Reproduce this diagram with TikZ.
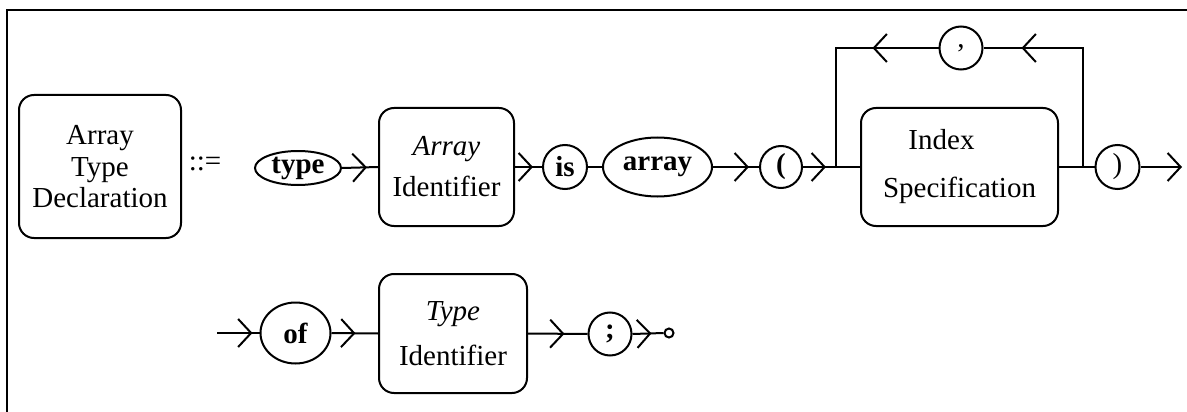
\documentclass[tikz,border=0pt]{standalone}
\usepackage{fontspec}
\setmainfont{Liberation Serif}
\usetikzlibrary{arrows.meta,decorations.markings,shapes.geometric}
\begin{document}
\begin{tikzpicture}[x=1pt,y=-1pt,
  lw/.style={line width=2pt},
  txt/.style={font=\fontsize{29}{33}\selectfont},
  btxt/.style={font=\fontsize{29}{33}\selectfont\bfseries},
  box/.style={draw,lw,rounded corners=15pt,align=center,inner sep=0pt,txt},
  oval/.style={draw,lw,ellipse,inner sep=0pt,btxt},
  term/.style={draw,lw,circle,inner sep=0pt,minimum size=44pt,btxt},
  arrat/.style={postaction={decorate,decoration={markings,mark=at position #1 with {\arrow{Straight Barb[length=13pt,width=28pt]}}}}},
  endarr/.style={-{Straight Barb[length=13pt,width=28pt]}}
]
\useasboundingbox (0,0) rectangle (1187,412);
% frame
\draw[line width=2.5pt] (7,412) -- (7,10) -- (1187,10);

% row 1
\node[box,minimum width=162pt,minimum height=143pt] (atd) at (100,166.5)
  {Array\\[-1pt]Type\\[-2pt]Declaration};
\node[txt] (def) at (205,164) {::=};
\node[oval,minimum width=86pt,minimum height=34pt] (type) at (298,168) {type};
\node[box,minimum width=135pt,minimum height=118pt] (ai) at (446.5,167)
  {\textit{Array}\\[8pt]Identifier};
\node[term,minimum size=44pt] (is) at (565,167) {is};
\node[oval,minimum width=109pt,minimum height=59pt] (array) at (657.5,167) {array};
\node[term,minimum size=42pt] (lp) at (781,167) {(};
\node[box,minimum width=197pt,minimum height=118pt] (is2) at (959.5,167)
  {Index\hspace*{36pt}\\[15pt]Specification};
\node[term,minimum size=43pt,txt] (comma) at (961,48) {,};
\node[term,minimum size=44pt,txt] (rp) at (1117.5,167) {)};
\coordinate (j1) at (836,167);
\coordinate (j2) at (1083,167);
\coordinate (out) at (1182,167);

\draw[lw,arrat=-11pt] (type.east) -- (ai.west);
\draw[lw,arrat=-9pt] (ai.east) -- (is.west);
\draw[lw] (is.east) -- (array.west);
\draw[lw,arrat=-10pt] (array.east) -- (lp.west);
\draw[lw,arrat=23pt] (lp.east) -- (is2.west);
\draw[lw] (is2.east) -- (rp.west);
\draw[lw,endarr] (rp.east) -- (out);
\draw[lw,arrat=-38pt] (j2) |- (comma.east);
\draw[lw,arrat=66pt] (comma.west) -| (j1);

% row 2
\coordinate (in) at (217,333);
\node[oval,minimum width=70pt,minimum height=61pt] (of) at (295.5,333) {of};
\node[box,minimum width=148pt,minimum height=119pt] (ti) at (453,333.5)
  {\textit{Type}\\[12pt]Identifier};
\node[term,minimum size=43pt] (semi) at (610,334) {;};
\node[draw,lw,circle,minimum size=9pt,inner sep=0pt] (fin) at (669,333) {};

\draw[lw,arrat=-7pt] (in) -- (of.west);
\draw[lw,arrat=24pt] (of.east) -- (ti.west);
\draw[lw,arrat=-23pt] (ti.east) -- (semi.west);
\draw[lw,arrat=-12pt] (semi.east) -- (fin.west);
\end{tikzpicture}
\end{document}
